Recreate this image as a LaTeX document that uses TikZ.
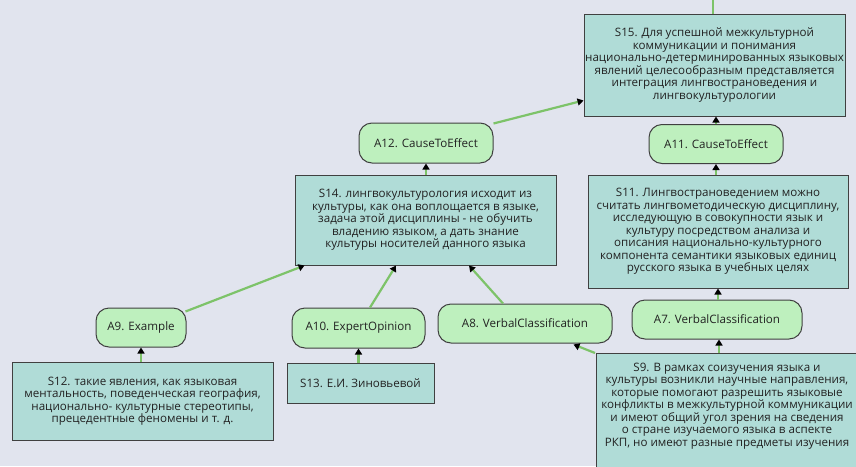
\documentclass[tikz,border=0pt]{standalone}
\usepackage{fontspec}
\setmainfont{Open Sans}
\usetikzlibrary{arrows.meta}
\definecolor{bgc}{RGB}{225,228,238}
\definecolor{sfill}{RGB}{176,220,215}
\definecolor{afill}{RGB}{190,240,190}
\definecolor{edgec}{RGB}{64,64,64}
\definecolor{linec}{RGB}{125,195,105}
\definecolor{txt}{RGB}{34,34,34}
\tikzset{
  sbox/.style={draw=edgec, line width=1pt, fill=sfill, inner sep=0pt, align=center, text=txt,
    font=\fontsize{11.6}{12.5}\selectfont},
  abox/.style={draw=edgec, line width=1pt, fill=afill, rounded corners=13pt, inner sep=0pt, align=center, text=txt,
    font=\fontsize{11.6}{12.5}\selectfont},
  conn/.style={draw=linec, line width=2.2pt, -{Triangle[length=6pt,width=7pt,color=black]}},
  plain/.style={draw=linec, line width=1.6pt}
}
\begin{document}
\begin{tikzpicture}[x=1pt,y=-1pt]
\useasboundingbox (0,0) rectangle (856,466);
\clip (0,0) rectangle (856,466);
\fill[bgc] (0,0) rectangle (856,466);

% S nodes
\node[sbox, minimum width=261pt, minimum height=102pt] (s15) at (714.5,65)
  {S15. Для успешной межкультурной\\коммуникации и понимания\\национально-детерминированных языковых\\явлений целесообразным представляется\\интеграция лингвострановедения и\\лингвокультурологии};
\node[sbox, minimum width=261pt, minimum height=90pt] (s14) at (425.5,220)
  {S14. лингвокультурология исходит из\\культуры, как она воплощается в языке,\\задача этой дисциплины - не обучить\\владению языком, а дать знание\\культуры носителей данного языка};
\node[sbox, minimum width=260pt, minimum height=113pt] (s11) at (718,231.5)
  {S11. Лингвострановедением можно\\считать лингвометодическую дисциплину,\\исследующую в совокупности язык и\\культуру посредством анализа и\\описания национально-культурного\\компонента семантики языковых единиц\\русского языка в учебных целях};
\node[sbox, minimum width=261pt, minimum height=78pt] (s12) at (142.5,401)
  {S12. такие явления, как языковая\\ментальность, поведенческая география,\\национально- культурные стереотипы,\\прецедентные феномены и т. д.};
\node[sbox, minimum width=147pt, minimum height=40pt] (s13) at (360.5,383)
  {S13. Е.И. Зиновьевой};
\node[sbox, minimum width=262pt, minimum height=140pt, anchor=north west] (s9) at (596,353) {};
\node[align=center, text=txt, font=\fontsize{11.6}{12.5}\selectfont, inner sep=0pt, anchor=center] (s9t) at (727,406)
  {S9. В рамках соизучения языка и\\культуры возникли научные направления,\\которые помогают разрешить языковые\\конфликты в межкультурной коммуникации\\и имеют общий угол зрения на сведения\\о стране изучаемого языка в аспекте\\РКП, но имеют разные предметы изучения};

% A nodes
\node[abox, minimum width=134pt, minimum height=40pt] (a12) at (426,143) {A12. CauseToEffect};
\node[abox, minimum width=134pt, minimum height=39pt] (a11) at (716,144) {A11. CauseToEffect};
\node[abox, minimum width=90pt, minimum height=39pt] (a9) at (141,327.5) {A9. Example};
\node[abox, minimum width=133pt, minimum height=40pt] (a10) at (358.5,328) {A10. ExpertOpinion};
\node[abox, minimum width=174pt, minimum height=39pt] (a8) at (525,323.5) {A8. VerbalClassification};
\node[abox, minimum width=170pt, minimum height=39pt] (a7) at (717,319.5) {A7. VerbalClassification};

% connectors
\coordinate (top) at (713,0);
\draw[plain] (top) -- (top |- s15.north);
\draw[conn] (a9.south |- s12.north) -- (a9.south);
\draw[conn] ([xshift=-1pt,yshift=-4pt]a9.north east) -- ([xshift=10pt]s14.south west);
\draw[conn] (a10.south |- s13.north) -- (a10.south);
\draw[conn] ([xshift=11.5pt]a10.north) -- ([xshift=-29.5pt]s14.south);
\draw[conn] ([xshift=-1pt]s9.north west) -- ([xshift=-39pt,yshift=-1pt]a8.south east);
\draw[conn] ([xshift=-22pt]a8.north) -- ([xshift=43.5pt]s14.south);
\draw[conn] ([xshift=2pt]a7.south |- s9.north) -- ([xshift=2pt]a7.south);
\draw[conn] ([xshift=1pt]a7.north) -- ([xshift=1pt]a7.north |- s11.south);
\draw[conn] (a11.south |- s11.north) -- (a11.south);
\draw[conn] (a11.north) -- (a11.north |- s15.south);
\draw[conn] (a12.south |- s14.north) -- (a12.south);
\draw[conn] ([yshift=-1pt]a12.north east) -- ([yshift=16pt]s15.south west);
\end{tikzpicture}
\end{document}
